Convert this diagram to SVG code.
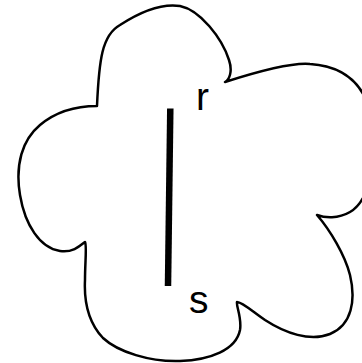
<svg xmlns="http://www.w3.org/2000/svg" width="362" height="363" viewBox="0 0 362 363">
<style>
.cloud{fill:#fff;stroke:#000;stroke-width:2.5;stroke-linejoin:round}
.edge{stroke:#000;stroke-width:6.5;fill:none}
.lbl{font-family:"Liberation Sans",Arial,sans-serif;font-size:39px;fill:#000}
</style>
<rect width="362" height="363" fill="#fff"/>
<g id="cloud">
<path class="cloud" d="M97,106 C99,60 102,35 120,25 C140,12 160,3 180,6 C200,10 222,38 229,60 C233,72 229,80 225,82 C250,74 290,62 310,64 C340,66 365,80 372,120 C378,160 370,200 350,212 C338,219 325,218 317,215 C330,230 345,255 350,275 C356,300 352,325 330,334 C310,342 285,333 265,320 C252,311 242,302 237,302 C236,306 242,318 240,330 C236,350 210,360 180,361 C150,362 118,352 103,338 C88,322 84,300 85,280 C85,262 87,245 85,242 C80,246 72,253 60,251 C40,248 25,225 20,195 C15,165 22,140 40,125 C58,110 80,106 97,106 Z"/>
</g>
<g id="connectors">
<line class="edge" x1="170.3" y1="108.5" x2="168" y2="286"/>
</g>
<g id="label-r"><text class="lbl" x="196" y="109.5">r</text></g>
<g id="label-s"><text class="lbl" x="189" y="312.5">s</text></g>
</svg>
